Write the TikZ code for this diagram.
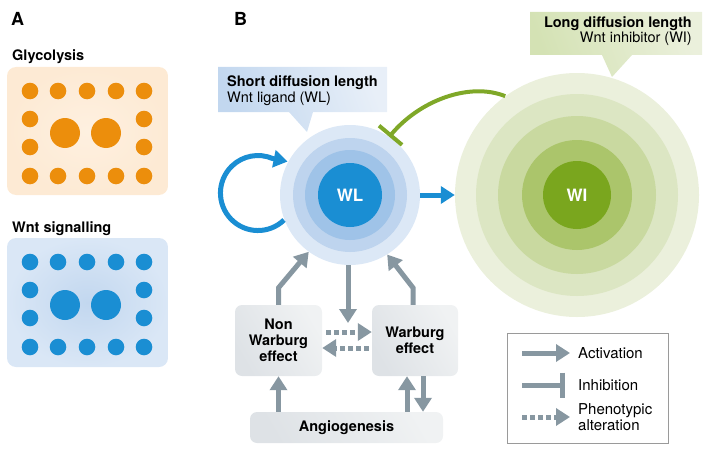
\documentclass[tikz,border=0pt]{standalone}
\usepackage{fontspec}
\setmainfont{TeX Gyre Heros}
\usetikzlibrary{arrows.meta}

\definecolor{glyorange}{HTML}{EC8E0C}
\definecolor{glyedge}{HTML}{FDEAD4}
\definecolor{glymid}{HTML}{FEF0E0}
\definecolor{wntblue}{HTML}{1A8ED3}
\definecolor{wntedge}{HTML}{DAE7F6}
\definecolor{wntmid}{HTML}{C2D7EF}
\definecolor{wlringa}{HTML}{DCE8F6}
\definecolor{wlringb}{HTML}{BED4EE}
\definecolor{wlringc}{HTML}{9FC3E8}
\definecolor{wiringa}{HTML}{EBF0DC}
\definecolor{wiringb}{HTML}{DCE6C3}
\definecolor{wiringc}{HTML}{C9D9A0}
\definecolor{wiringd}{HTML}{ABC56B}
\definecolor{wigreen}{HTML}{7AA61E}
\definecolor{inhgreen}{HTML}{7FA828}
\definecolor{arrowgray}{HTML}{8797A1}
\definecolor{boxtop}{HTML}{DEE2E6}
\definecolor{boxbottom}{HTML}{F0F2F3}
\definecolor{legendline}{HTML}{9A9A9A}
\definecolor{wlnotea}{HTML}{C2D7EF}
\definecolor{wlnoteb}{HTML}{E8EFF8}
\definecolor{winotea}{HTML}{D4E2B4}
\definecolor{winoteb}{HTML}{EBF0DC}

\tikzset{
  panel/.style={font=\fontsize{18}{20}\selectfont\bfseries, anchor=base west, inner sep=0pt},
  heading/.style={font=\fontsize{14.5}{16}\selectfont\bfseries, anchor=base west, inner sep=0pt},
  subhead/.style={font=\fontsize{14.5}{16}\selectfont, anchor=base west, inner sep=0pt},
  effectbox/.style={rounded corners=7pt, left color=boxtop, right color=boxbottom, shading angle=120,
    align=center, font=\fontsize{14.5}{16}\selectfont\bfseries, inner sep=0pt},
  actarrow/.style={draw=arrowgray, line width=5pt, -{Triangle[width=17pt,length=14pt]}},
  phenoarrow/.style={actarrow, dash pattern=on 5pt off 3pt},
  inharrow/.style={draw=arrowgray, line width=5pt, -{Bar[width=25pt]}},
  bluearrow/.style={draw=wntblue, line width=5pt, -{Triangle[width=17pt,length=14pt]}},
  inhibit/.style={draw=inhgreen, line width=4pt, -{Bar[width=30pt]}},
  legendtext/.style={font=\fontsize{15}{16}\selectfont, anchor=west, inner sep=0pt, align=left},
  core/.style={circle, inner sep=0pt, text=white, font=\fontsize{17}{18}\selectfont\bfseries}
}

\begin{document}
\begin{tikzpicture}[x=1pt,y=-1pt]
  \useasboundingbox (0,0) rectangle (709,452);

  \node[panel] (labela) at (11,26) {A};
  \node[heading] (glyhead) at (12,60) {Glycolysis};
  \shade[rounded corners=9pt, inner color=glymid, outer color=glyedge] (7,67) rectangle (168,195);
  \foreach \x in {30,58,87,116,144}
    \fill[glyorange] (\x,91) circle[radius=8.3] (\x,176) circle[radius=8.3];
  \foreach \y in {119,147}
    \fill[glyorange] (30,\y) circle[radius=8.3] (144,\y) circle[radius=8.3];
  \fill[glyorange] (65,133) circle[radius=15] (106,133) circle[radius=15];

  \node[heading] (wnthead) at (12,232) {Wnt signalling};
  \shade[rounded corners=9pt, inner color=wntmid, outer color=wntedge] (7,238) rectangle (168,367);
  \foreach \x in {30,58,87,116,144}
    \fill[wntblue] (\x,262) circle[radius=8.3] (\x,347) circle[radius=8.3];
  \foreach \y in {290,318}
    \fill[wntblue] (30,\y) circle[radius=8.3] (144,\y) circle[radius=8.3];
  \fill[wntblue] (65,305) circle[radius=15] (106,305) circle[radius=15];

  \node[panel] (labelb) at (234,26) {B};

  \shade[left color=wlnotea, right color=wlnoteb, shading angle=110]
    (218,67) -- (387,67) -- (387,112) -- (313,112) -- (307,132) -- (289,112) -- (218,112) -- cycle;
  \node[heading] (wlhead) at (227,86) {Short diffusion length};
  \node[subhead] (wlsub) at (227,102) {Wnt ligand (WL)};

  \shade[left color=winotea, right color=winoteb, shading angle=110]
    (530,12) -- (702,12) -- (702,55) -- (632,55) -- (612,77) -- (602,55) -- (530,55) -- cycle;
  \node[heading, anchor=base east] (wihead) at (692,28) {Long diffusion length};
  \node[subhead, anchor=base east] (wisub) at (692,43) {Wnt inhibitor (WI)};

  \node[circle, minimum size=140, fill=wlringa] (wl) at (350,195) {};
  \fill[wlringb] (wl) circle[radius=57];
  \fill[wlringc] (wl) circle[radius=45];
  \node[core, minimum size=64, fill=wntblue] (wlcore) at (wl) {WL};

  \node[circle, minimum size=244, fill=wiringa] (wi) at (577,195) {};
  \fill[wiringb] (wi) circle[radius=101];
  \fill[wiringc] (wi) circle[radius=79];
  \fill[wiringd] (wi) circle[radius=55];
  \node[core, minimum size=68, fill=wigreen] (wicore) at (wi) {WI};

  \draw[bluearrow] ([shift={(-66,25)}]wl.center) arc[start angle=46, end angle=293, radius=37.5] -- ++(15,3);
  \draw[bluearrow] (wl) -- (wi);
  \draw[inhibit] (wi.126) .. controls (470,82) and (420,100) .. (wl.56);

  \node[effectbox, minimum width=87, minimum height=71] (nonwb) at (278.5,340.5) {Non\\Warburg\\effect};
  \node[effectbox, minimum width=86, minimum height=71] (wb) at (415,340.5) {Warburg\\effect};
  \node[effectbox, minimum width=193, minimum height=31] (angio) at (346.5,427.5) {Angiogenesis};

  \coordinate (split) at (348,323);
  \draw[actarrow] (nonwb.north) -- ++(0,-17) -- (wl.234);
  \draw[actarrow] ([xshift=-2pt]wb.north) -- ++(0,-17) -- (wl.302);
  \draw[actarrow] (split |- wl.south) -- (split);
  \draw[phenoarrow, shorten <=4pt] ([yshift=8.5pt]nonwb.east) -- ([yshift=8.5pt]wb.west);
  \draw[phenoarrow, shorten <=3pt] ([yshift=-7.5pt]wb.west) -- ([yshift=-7.5pt]nonwb.east);
  \draw[actarrow] (nonwb.south |- angio.north) -- (nonwb.south);
  \draw[actarrow] ([xshift=-8pt]wb.south |- angio.north) -- ([xshift=-8pt]wb.south);
  \draw[actarrow] ([xshift=8pt]wb.south) -- ([xshift=8pt]wb.south |- angio.north);

  \node[draw=legendline, line width=0.8pt, minimum width=161, minimum height=110] (legend) at (587.5,388) {};
  \node[legendtext] (actlabel) at (578,353) {Activation};
  \node[legendtext] (inhlabel) at (578,385) {Inhibition};
  \node[legendtext] (phenolabel) at (578,417) {Phenotypic\\alteration};
  \coordinate (actstart) at (522,353);
  \coordinate (inhstart) at (522,385);
  \coordinate (phenostart) at (522,417);
  \draw[actarrow] (actstart) -- +(48,0);
  \draw[inharrow] (inhstart) -- +(43,0);
  \draw[phenoarrow] (phenostart) -- +(48,0);
\end{tikzpicture}
\end{document}
